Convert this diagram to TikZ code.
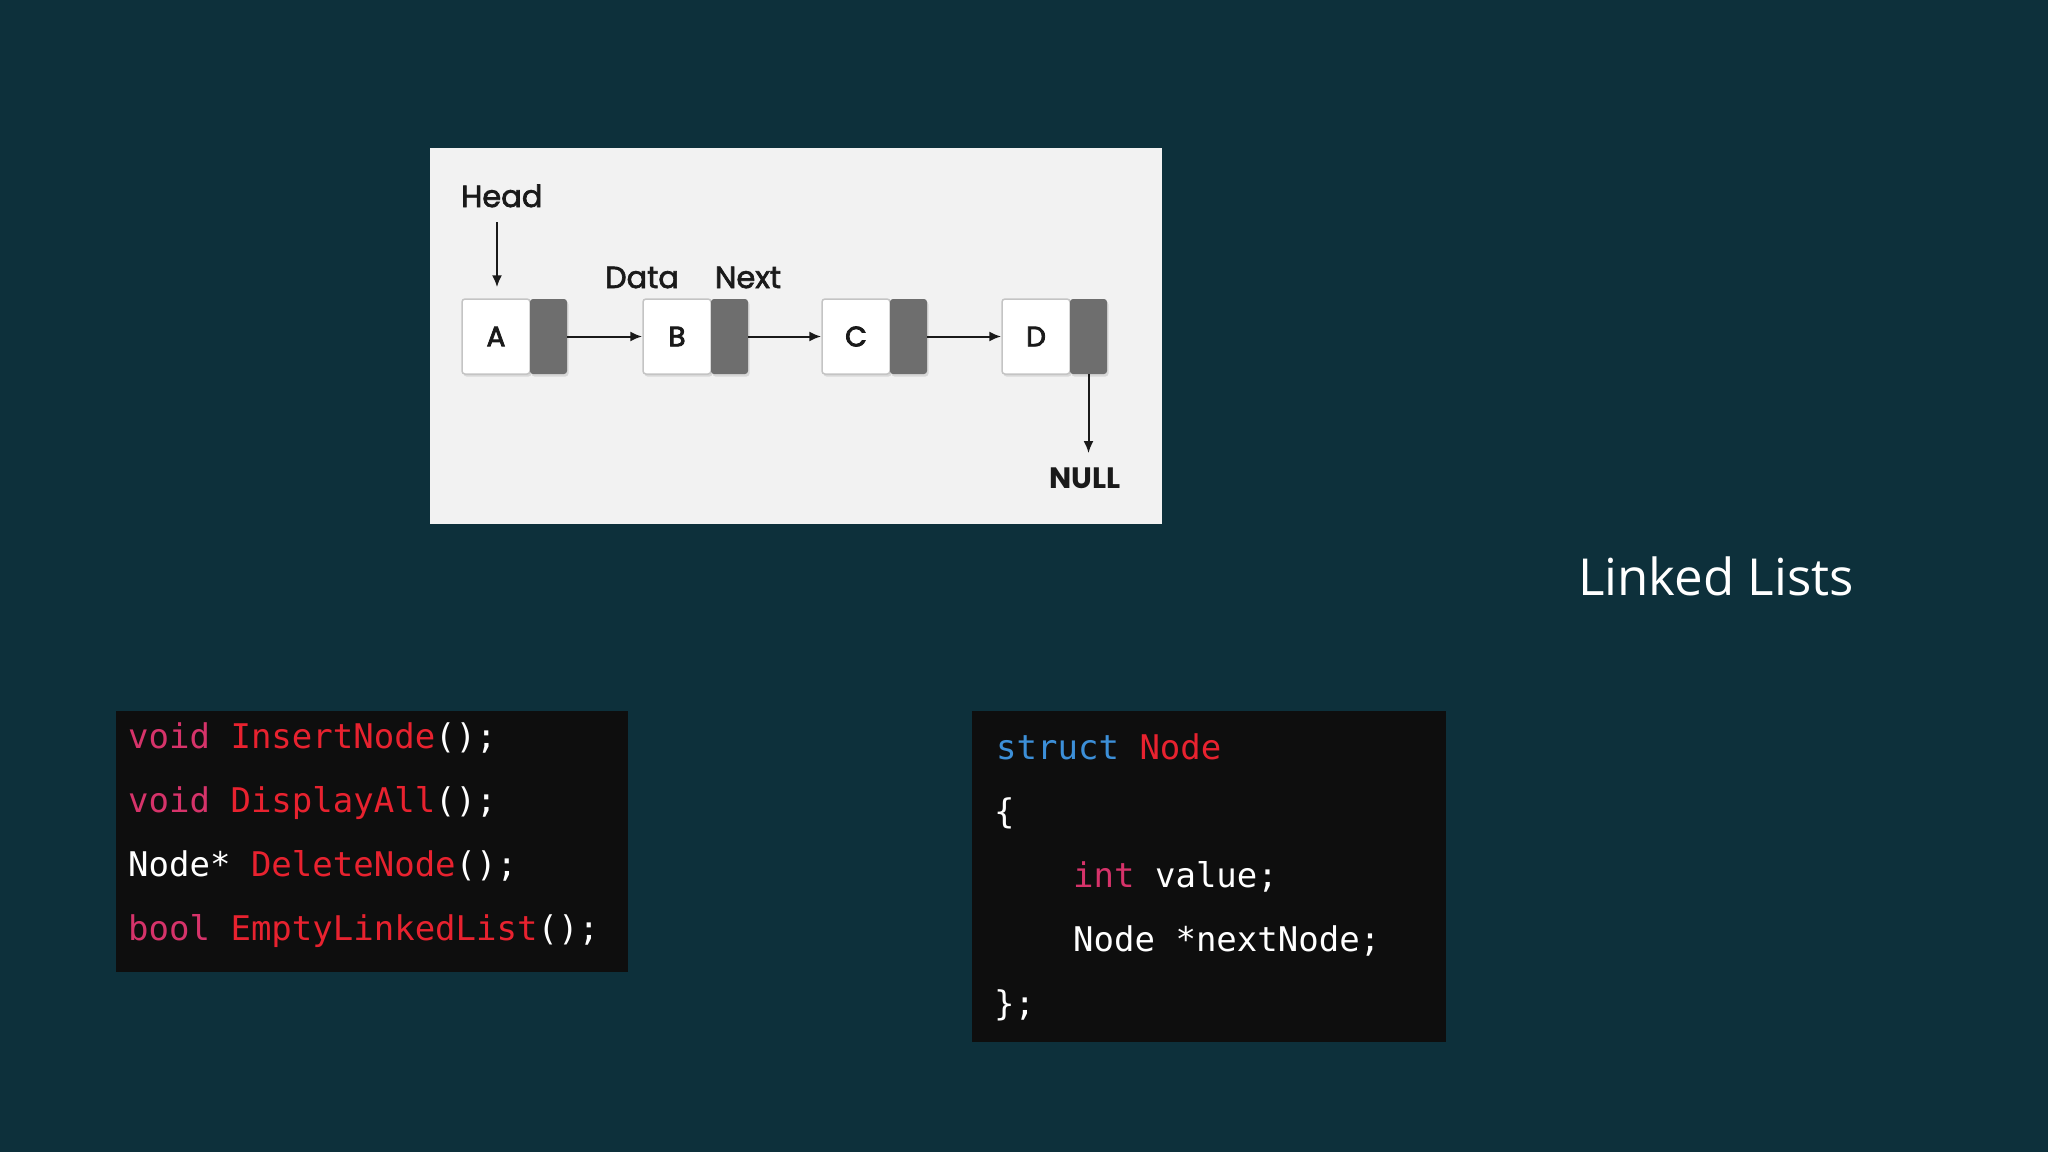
\documentclass[tikz,border=0pt]{standalone}
\usepackage{fontspec}
\usetikzlibrary{arrows.meta,shadows}
\newfontfamily\popfont{Poppins}
\newfontfamily\popmed[FakeBold=2.2]{Poppins}
\newfontfamily\popsemi[FakeBold=3]{Poppins}
\newfontfamily\titlefont{Open Sans}
\newfontfamily\codefont{DejaVu Sans Mono}
\definecolor{bg}{HTML}{0D303B}
\definecolor{panel}{HTML}{F2F2F2}
\definecolor{codebg}{HTML}{0E0E0E}
\definecolor{kw}{HTML}{D6336A}
\definecolor{fn}{HTML}{E8222F}
\definecolor{kwblue}{HTML}{3C8FD8}
\definecolor{nextgray}{HTML}{6E6E6E}
\definecolor{cellborder}{HTML}{C4C4C4}
\definecolor{ink}{HTML}{1A1A1A}
\begin{document}
\begin{tikzpicture}[x=1pt,y=-1pt,
  lbl/.style={font=\popmed\fontsize{30.5}{34}\selectfont, text=ink, inner sep=0},
  datacell/.style={draw=cellborder, line width=1.5pt, fill=white, rounded corners=3pt,
    minimum width=68pt, minimum height=75pt, inner sep=0, text=ink,
    font=\popsemi\fontsize{28}{30}\selectfont,
    drop shadow={shadow xshift=1.5pt, shadow yshift=-2.5pt, opacity=0.22}},
  nextcell/.style={fill=nextgray, rounded corners=3pt, minimum width=37pt,
    minimum height=75pt, inner sep=0,
    drop shadow={shadow xshift=1.5pt, shadow yshift=-2.5pt, opacity=0.22}},
  arr/.style={draw=ink, line width=2pt, -{Latex[length=12pt,width=10pt]}},
  codebox/.style={fill=codebg, inner sep=0, anchor=north west},
  code/.style={font=\codefont\fontsize{34}{40}\selectfont, text=white, inner sep=0, anchor=base west},
]
% background
\fill[bg] (0,0) rectangle (2048,1152);
\useasboundingbox (0,0) rectangle (2048,1152);

% diagram panel
\node[fill=panel, inner sep=0, minimum width=732pt, minimum height=376pt, anchor=north west] (panel) at (430,148) {};

% linked list cells
\node[datacell] (A) at (496,336.5) {A};
\node[nextcell] (An) at (548.5,336.5) {};
\node[datacell] (B) at (677,336.5) {B};
\node[nextcell] (Bn) at (729.5,336.5) {};
\node[datacell] (C) at (856,336.5) {C};
\node[nextcell] (Cn) at (908.5,336.5) {};
\node[datacell] (D) at (1036,336.5) {D};
\node[nextcell] (Dn) at (1088.5,336.5) {};

% labels
\node[lbl, anchor=base west] (head) at (461,207) {Head};
\node[lbl, anchor=base] (data) at (642,288) {Data};
\node[lbl, anchor=base] (next) at (748,288) {Next};
\node[lbl, anchor=base, font=\popfont\bfseries\fontsize{29.5}{32}\selectfont] (null) at (1085,488) {NULL};

% arrows
\coordinate (headtail) at (497,222);
\draw[arr, shorten >=11pt] (headtail) -- (headtail |- A.north);
\draw[arr] (An.east) -- (B.west);
\draw[arr] (Bn.east) -- (C.west);
\draw[arr] (Cn.east) -- (D.west);
\draw[arr, shorten >=14pt] (Dn.south) -- (Dn.south |- null.north);

% title
\node[font=\titlefont\fontsize{51}{60}\selectfont, text=white, inner sep=0, anchor=base west] (title) at (1578,595) {Linked Lists};

% code box 1
\node[codebox, minimum width=512pt, minimum height=261pt] (code1) at (116,711) {};
\node[code] (c1l1) at (128,748) {\textcolor{kw}{void} \textcolor{fn}{InsertNode}();};
\node[code] (c1l2) at (128,812) {\textcolor{kw}{void} \textcolor{fn}{DisplayAll}();};
\node[code] (c1l3) at (128,876) {Node* \textcolor{fn}{DeleteNode}();};
\node[code] (c1l4) at (128,940) {\textcolor{kw}{bool} \textcolor{fn}{EmptyLinkedList}();};

% code box 2
\node[codebox, minimum width=474pt, minimum height=331pt] (code2) at (972,711) {};
\node[code] (c2l1) at (996,759) {\textcolor{kwblue}{struct} \textcolor{fn}{Node}};
\node[code] (c2l2) at (994,823) {\{};
\node[code] (c2l3) at (1073,887) {\textcolor{kw}{int} value;};
\node[code] (c2l4) at (1073,951) {Node *nextNode;};
\node[code] (c2l5) at (994,1015) {\};};
\end{tikzpicture}
\end{document}
